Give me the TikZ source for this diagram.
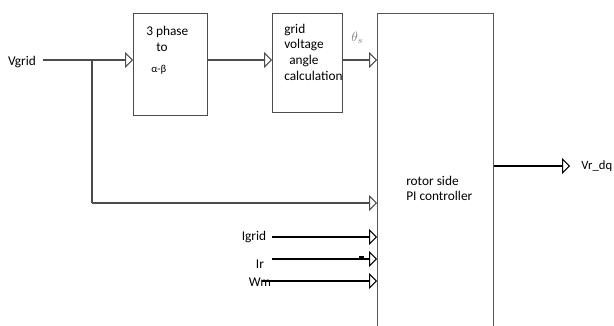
\documentclass[tikz,border=0pt]{standalone}
\usepackage{fontspec}
\setmainfont{Carlito}
\usetikzlibrary{arrows.meta}

\tikzset{
  blk/.style={draw=gray!60!black, line width=0.8pt, anchor=north west, inner sep=0pt},
  sig/.style={line width=0.8pt, -{Triangle[open,width=12pt,length=6pt]}},
  lbl/.style={font=\fontsize{10}{12}\selectfont, inner sep=0pt}
}

\begin{document}
\begin{tikzpicture}[x=0.75pt,y=-0.75pt]
\useasboundingbox (0,0) rectangle (614,325);

\node[blk, minimum width=55.5pt, minimum height=76.5pt] (tpab) at (133,13) {};
\node[blk, minimum width=52.5pt, minimum height=74.25pt] (gvac) at (272,13) {};
\node[blk, draw=gray!70!black, minimum width=87pt, minimum height=240pt] (rspi) at (377,13) {};

\node[lbl, anchor=west] at (146,32) {3 phase};
\node[lbl, anchor=west] at (156,47) {to};
\node[lbl, anchor=west, font=\fontsize{8}{10}\selectfont] at (151,70) {α-β};

\node[lbl, anchor=west] at (284,30) {grid};
\node[lbl, anchor=west] at (284,45) {voltage};
\node[lbl, anchor=west] at (289,61) {angle};
\node[lbl, anchor=west] at (284,76) {calculation};

\node[lbl, anchor=west] at (406,181) {rotor side};
\node[lbl, anchor=west] at (406,196) {PI controller};

\node[lbl] (vgrid) at (22,62) {Vgrid};
\node[lbl] (igrid) at (254,237) {Igrid};
\node[lbl] (ir) at (260,264) {Ir};
\node[lbl] (wm) at (260,282) {Wm};
\node[lbl, anchor=west, font=\fontsize{9.5}{11}\selectfont] (vrdq) at (581,166) {Vr\_dq};

\coordinate (vin) at (43,60);
\coordinate (br) at (92,60);
\coordinate (fb) at (92,203);
\coordinate (irin) at (272,259);
\coordinate (wmin) at (262,281);
\coordinate (out) at (570,166);

\draw[sig, gray!60!black] (vin) -- (vin -| tpab.west);
\draw[gray!60!black, line width=0.8pt] (br) -- (fb);
\draw[sig, gray!60!black] (fb) -- (fb -| rspi.west);
\draw[sig, gray!60!black] (vin -| tpab.east) -- (vin -| gvac.west);
\draw[sig, gray!60!black] (vin -| gvac.east) -- (vin -| rspi.west)
  node[midway, above=9pt, xshift=-2pt, gray, font=\fontsize{10}{12}\selectfont] {$\theta_s$};

\draw[sig] ([xshift=4pt]igrid.east) -- (igrid -| rspi.west);
\draw[sig] (irin) -- (irin -| rspi.west);
\draw[sig] (wmin) -- (wmin -| rspi.west);
\draw[line width=0.8pt] (359,257) -- (364,257);

\draw[sig] (out -| rspi.east) -- (out);
\end{tikzpicture}
\end{document}
